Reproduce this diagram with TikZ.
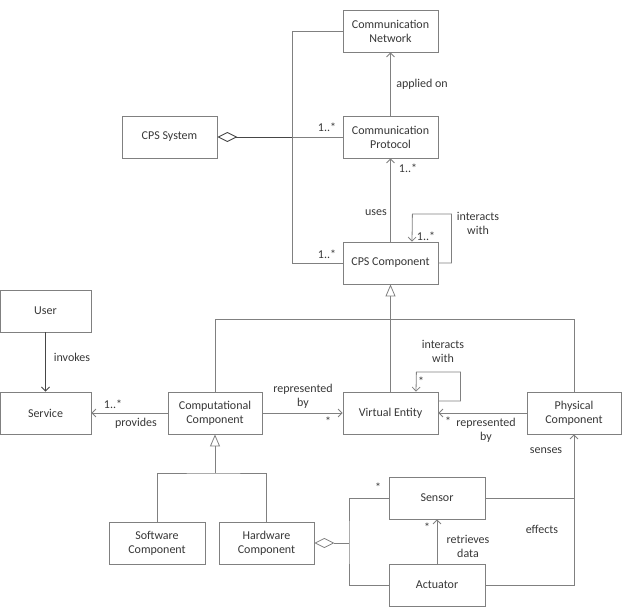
\documentclass[tikz,border=0pt]{standalone}
\usepackage{fontspec}
\setmainfont{Carlito}
\usetikzlibrary{arrows.meta}
\definecolor{linegray}{RGB}{128,128,128}
\definecolor{darkline}{RGB}{70,70,70}
\definecolor{txt}{RGB}{55,55,55}
\begin{document}
\begin{tikzpicture}[x=1pt,y=-1pt,
 box/.style={draw=linegray, fill=white, line width=0.8pt, minimum width=95pt, minimum height=42pt, inner sep=0pt, align=center, font=\fontsize{12}{14}\selectfont, text=txt},
 lbl/.style={font=\fontsize{12}{14}\selectfont, text=txt, align=center, inner sep=0pt},
 conn/.style={draw=linegray, line width=0.8pt},
 darkconn/.style={draw=darkline, line width=0.9pt},
 openarr/.style={-{Straight Barb[length=4pt,width=8pt]}},
 genarr/.style={-{Triangle[open,length=12pt,width=10pt]}},
 aggarr/.style={{Diamond[open,length=20pt,width=10pt]}-},
]
\useasboundingbox (0,0) rectangle (627,616);

% boxes
\node[box] (CN) at (390.5,31) {Communication\\Network};
\node[box] (CP) at (390.5,137) {Communication\\Protocol};
\node[box] (SYS) at (169.5,137) {CPS System};
\node[box] (CPSC) at (390.5,263) {CPS Component};
\node[box, minimum width=91pt] (User) at (45.5,311) {User};
\node[box, minimum width=91pt] (Service) at (45.5,413) {Service};
\node[box, minimum width=94pt] (CompC) at (215,413) {Computational\\Component};
\node[box] (VE) at (390.5,413) {Virtual Entity};
\node[box, minimum width=94pt] (PhysC) at (574,413) {Physical\\Component};
\node[box, minimum width=96pt] (SW) at (157,543) {Software\\Component};
\node[box] (HW) at (266.5,543) {Hardware\\Component};
\node[box, minimum width=96pt] (Sensor) at (437,498) {Sensor};
\node[box, minimum width=96pt] (Act) at (437,585) {Actuator};

% top part
\draw[conn,openarr] (CP.north) -- (CN.south);
\draw[conn,openarr] (CPSC.north) -- (CP.south);
\coordinate (bus) at (293,137);
\draw[conn] (bus) -- (CP.west);
\draw[darkconn,aggarr] (SYS.east) -- (bus);
\draw[conn] (CN.west) -- ++(-50,0) |- (CPSC.west);
\draw[conn,openarr] (CPSC.east) -- ++(13,0) -- ++(0,-49) -- ++(-39,0) -- ([xshift=21.5pt]CPSC.north);

% generalization to CPS Component
\draw[conn,genarr] (VE.north) -- (CPSC.south);
\draw[conn] (CompC.north) -- ++(0,-72) -| (PhysC.north);

% left part
\draw[darkconn,-{Straight Barb[length=4pt,width=8pt]}] (User.south) -- (Service.north);
\draw[conn,openarr] (CompC.west) -- (Service.east);
\draw[conn,openarr] (CompC.east) -- (VE.west);
\draw[conn,openarr] (PhysC.west) -- (VE.east);
\draw[conn,openarr] ([yshift=12pt]VE.east) -- ++(22,0) -- ++(0,-29) -- ++(-44,0) -- ([xshift=25.5pt]VE.north);

% software / hardware generalization
\coordinate (g1) at (215,473);
\draw[conn,genarr] (g1) -- (CompC.south);
\draw[conn] (SW.north) |- (g1) -| (HW.north);

% hardware aggregation
\coordinate (hb) at (349,543);
\draw[conn,aggarr] (HW.east) -- (hb);
\draw[conn] (Sensor.west) -| (hb) |- (Act.west);
\draw[conn,openarr] (Act.north) -- (Sensor.south);
\draw[conn,openarr] (Sensor.east) -| (PhysC.south);
\draw[conn] (Act.east) -| (PhysC.south);

% labels
\node[lbl] (l1) at (422,84) {applied on};
\node[lbl] (l2) at (327,127) {1..*};
\node[lbl] (l3) at (408,168) {1..*};
\node[lbl] (l4) at (376,213) {uses};
\node[lbl] (l5) at (327,254) {1..*};
\node[lbl] (l6) at (426,236) {1..*};
\node[lbl] (l7) at (478,223) {interacts\\with};
\node[lbl] (l8) at (72,357) {invokes};
\node[lbl] (l9) at (113,404) {1..*};
\node[lbl] (l10) at (136,423) {provides};
\node[lbl] (l11) at (303,396) {represented\\by};
\node[lbl] (l12) at (328,421) {*};
\node[lbl] (l13) at (443,351) {interacts\\with};
\node[lbl] (l14) at (421,381) {*};
\node[lbl] (l15) at (448,421) {*};
\node[lbl] (l16) at (486,430) {represented\\by};
\node[lbl] (l17) at (546,451) {senses};
\node[lbl] (l18) at (378,487) {*};
\node[lbl] (l19) at (427,527) {*};
\node[lbl] (l20) at (468,546) {retrieves\\data};
\node[lbl] (l21) at (542,529) {effects};
\end{tikzpicture}
\end{document}
